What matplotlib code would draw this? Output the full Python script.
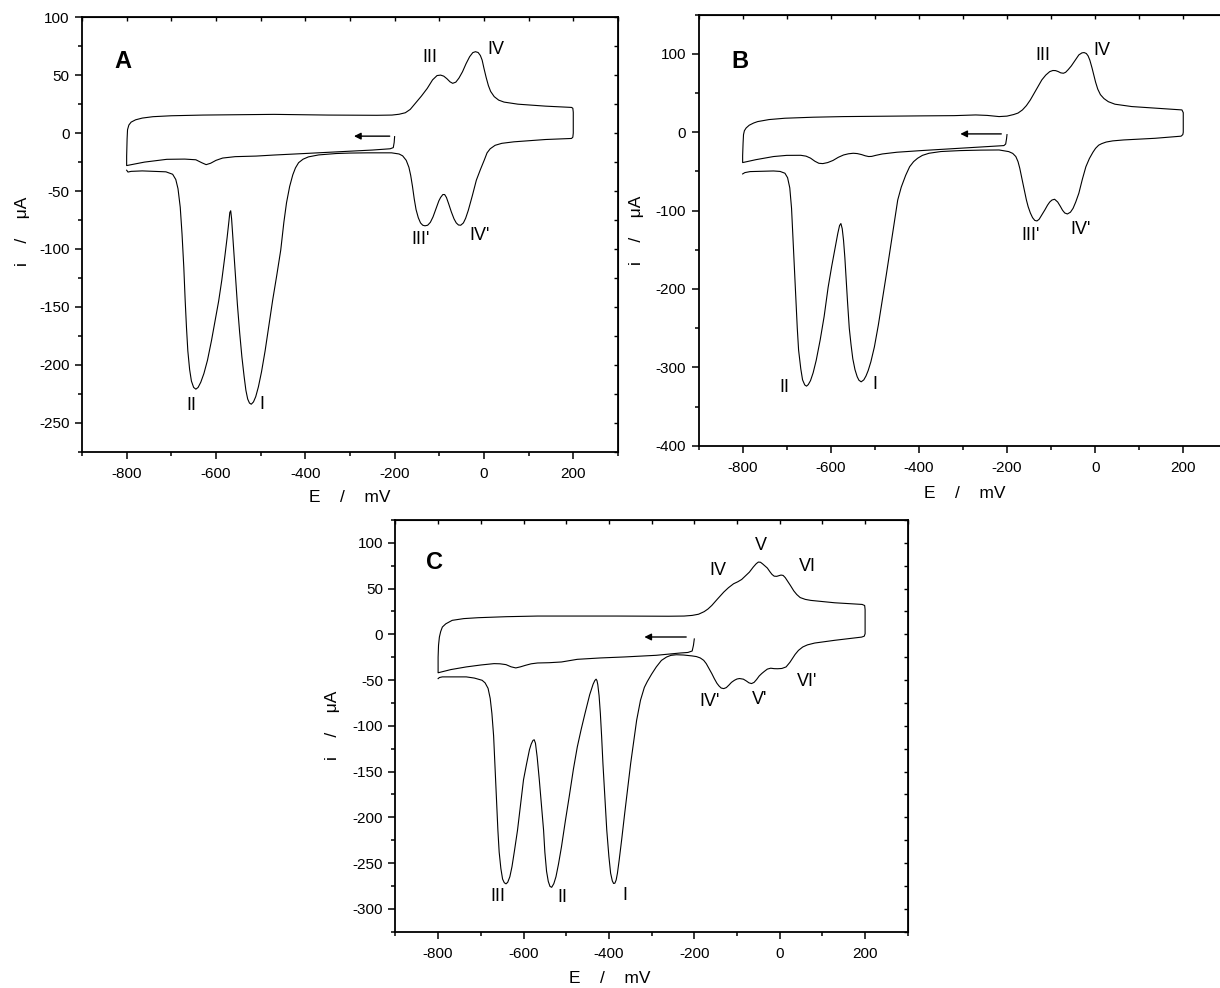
import matplotlib
matplotlib.use("Agg")
import matplotlib.pyplot as plt
from matplotlib.ticker import MultipleLocator
import numpy as np

plt.rcParams['font.family'] = ['Liberation Sans', 'DejaVu Sans']
plt.rcParams['axes.unicode_minus'] = False

# scan points (E in mV, i in uA), in the order the potential was swept
a_scan = [(-200, -3), (-201, -8), (-203, -12.5), (-210, -13.5), (-250, -14.6), (-300, -15.6), (-349, -16.6),
          (-402, -17.6), (-470, -18.9), (-510, -19.8), (-557, -20.3), (-585, -21.5), (-600, -23.5), (-612, -26),
          (-622, -27.2), (-632, -25.5), (-645, -23), (-670, -22.4), (-710, -22.6), (-760, -25), (-790, -27.3),
          (-800, -28), (-800, -20), (-799, -5), (-798, 3), (-795, 7), (-790, 9.5), (-780, 11.5), (-765, 13),
          (-741, 14.2), (-700, 15), (-629, 15.6), (-470, 16.2), (-349, 15.6), (-240, 15.4), (-206, 15.6),
          (-190, 16.3), (-176, 17.6), (-165, 20.5), (-154, 25.6), (-140, 32), (-127, 38.6), (-115, 46),
          (-105, 49.7), (-97, 50.1), (-90, 49.2), (-83, 47), (-76, 44.3), (-70, 43), (-63, 44), (-56, 47.5),
          (-48, 53), (-40, 60), (-32, 66), (-25, 69.5), (-19, 70.3), (-13, 69.6), (-8, 67), (-4, 63), (0, 56),
          (5, 48), (10, 41), (15, 36), (23, 31.5), (33, 28.5), (45, 26.8), (76, 25), (138, 23.3), (196, 22.2),
          (199, 21.5), (200, 18), (200, 0), (199, -3.5), (196, -4.6), (138, -5.5), (67, -7.5), (40, -8.8),
          (25, -10.5), (14, -13.5), (7, -17), (1, -23), (-8, -31.5), (-17, -40.6), (-26, -54), (-35, -66.6),
          (-41, -73.5), (-46, -77.5), (-52, -79.5), (-57, -79.3), (-62, -77.5), (-67, -74), (-73, -68),
          (-79, -61), (-84, -55.5), (-88, -53), (-92, -53), (-97, -55.5), (-101, -58.5), (-108, -66),
          (-114, -72.3), (-120, -77), (-126, -79.5), (-132, -80), (-137, -79.5), (-142, -77.5), (-147, -73),
          (-152, -66), (-156, -57), (-160, -46), (-164, -36.5), (-168, -29.5), (-174, -23.5), (-182, -19.6),
          (-190, -18), (-207, -17), (-260, -17), (-300, -17.2), (-331, -17.6), (-370, -18.8), (-393, -20.5),
          (-405, -22.5), (-415, -25.5), (-422, -30), (-428, -36), (-435, -46), (-442, -60), (-448, -77),
          (-455, -101), (-464, -123), (-473, -144), (-482, -167), (-490, -188), (-498, -206), (-505, -219),
          (-511, -227.5), (-516, -232), (-521, -234), (-525, -233), (-529, -229.5), (-533, -222), (-537, -210),
          (-542, -193), (-547, -172), (-552, -148), (-556, -125), (-560, -102), (-563, -85), (-565, -74),
          (-567, -67), (-569, -68.5), (-571, -76), (-575, -90), (-580, -106), (-587, -127), (-594, -145),
          (-601, -160), (-610, -179), (-619, -196), (-627, -207.5), (-634, -215), (-640, -219.5), (-645, -221),
          (-650, -219.5), (-655, -214), (-659, -204), (-663, -188), (-666, -168), (-669, -144), (-672, -116),
          (-676, -87), (-680, -64), (-685, -48), (-690, -40), (-697, -35.5), (-712, -33.4), (-765, -32.6),
          (-790, -33), (-797, -33.6), (-800, -32)]
a_labels = ["III", "IV", "III'", "IV'", "II", "I"]
a_lab_E = [-120, 26, -143, -10, -654, -497]
a_lab_i = [65, 72, -92, -88, -235, -234]

b_scan = [(-200, -3), (-201, -8), (-203, -15), (-207, -17), (-218, -17.4), (-306, -20.4), (-395, -23.4),
          (-450, -25.5), (-483, -27.7), (-498, -29.5), (-507, -30.8), (-514, -31), (-522, -30), (-530, -28.5),
          (-540, -27.2), (-549, -26.8), (-560, -27.5), (-571, -29), (-583, -32), (-595, -36), (-607, -38.7),
          (-618, -40), (-627, -39.6), (-636, -37), (-646, -33), (-656, -30.5), (-668, -29.4), (-700, -29.5),
          (-730, -31), (-770, -35), (-790, -37.5), (-800, -38.7), (-800, -30), (-799, -14), (-798, -3),
          (-796, 2), (-792, 5.5), (-785, 9), (-775, 11.8), (-766, 13.6), (-740, 16.2), (-704, 17.9),
          (-640, 19.2), (-571, 20), (-480, 20.5), (-395, 20.9), (-320, 21.2), (-271, 22.1), (-245, 21.5),
          (-218, 20), (-200, 20.6), (-185, 22.6), (-175, 24.5), (-165, 28.5), (-156, 34), (-147, 41.3),
          (-135, 53), (-121, 66.8), (-112, 73), (-103, 77.4), (-96, 78.8), (-90, 78.7), (-84, 77.5),
          (-78, 75.8), (-72, 75.3), (-67, 76.5), (-61, 80), (-54, 84.7), (-45, 92), (-37, 98.7), (-30, 101.3),
          (-25, 101.7), (-20, 100.5), (-16, 97.5), (-12, 92), (-7, 82), (-3, 73), (1, 64), (6, 55), (12, 48),
          (20, 43), (30, 39), (45, 35.8), (83, 32.8), (153, 30.2), (197, 28.5), (200, 25), (200, 0), (199, -3),
          (195, -5), (136, -7.7), (65, -9.8), (40, -11), (25, -12.5), (15, -14.5), (8, -16.5), (1, -20.5),
          (-5, -25.5), (-13, -33.5), (-21, -44), (-29, -60), (-37, -77.9), (-44, -89), (-50, -97), (-56, -102),
          (-63, -104.3), (-69, -103), (-74, -99.5), (-79, -94.5), (-85, -89), (-92, -85.5), (-98, -86.5),
          (-103, -89), (-108, -93), (-114, -99), (-121, -105.5), (-127, -111), (-132, -113.2), (-137, -112.5),
          (-142, -109), (-147, -103), (-152, -95), (-156, -86.4), (-160, -76), (-164, -65), (-167, -56.6),
          (-171, -46), (-175, -37.5), (-180, -31), (-187, -27), (-196, -24.7), (-218, -22.6), (-260, -22.8),
          (-306, -23.4), (-350, -24.6), (-377, -26.8), (-392, -29.5), (-403, -33.2), (-412, -37.5), (-421, -44),
          (-430, -55), (-440, -70), (-448, -86.4), (-456, -116), (-465, -150), (-474, -182), (-483, -214),
          (-492, -246), (-501, -274), (-509, -293), (-515, -304), (-520, -311), (-525, -316), (-531, -318.5),
          (-536, -316.5), (-540, -312), (-545, -303), (-550, -289), (-554, -271), (-558, -250), (-562, -216),
          (-565, -188), (-568, -160), (-571, -138), (-574, -123), (-577, -116.5), (-580, -119), (-584, -129),
          (-590, -147), (-598, -171.5), (-606, -198), (-615, -235), (-624, -265), (-633, -291), (-640, -307),
          (-646, -317), (-651, -322), (-655, -324), (-659, -322.5), (-664, -316), (-668, -302), (-673, -278),
          (-676, -250), (-679, -214), (-682, -175), (-686, -129), (-689, -97), (-693, -71), (-698, -58),
          (-704, -52.3), (-715, -50), (-730, -49.4), (-783, -50.2), (-795, -51.5), (-800, -53.2)]
b_labels = ["III", "IV", "III'", "IV'", "II", "I"]
b_lab_E = [-119, 16, -147, -32, -706, -501]
b_lab_i = [98, 104, -132, -124, -326, -322]

c_scan = [(-200, -5), (-202, -12), (-205, -18.2), (-215, -19.8), (-233, -20.4), (-289, -22.9), (-363, -24.7),
          (-420, -25.8), (-474, -27.3), (-495, -29), (-511, -30.2), (-540, -31), (-567, -31.3), (-582, -32.2),
          (-595, -33.8), (-607, -35.5), (-618, -36.7), (-629, -35.5), (-641, -33.1), (-655, -32.2), (-669, -32),
          (-700, -33.5), (-734, -35.6), (-770, -38.5), (-790, -40.8), (-798, -41.8), (-800, -42), (-800, -25),
          (-799, -12), (-797, -3), (-794, 3), (-790, 8), (-782, 11.5), (-767, 15.3), (-740, 17.2), (-706, 18.2),
          (-640, 19.3), (-567, 20), (-382, 20), (-260, 19.8), (-224, 20), (-205, 20.7), (-190, 22), (-177, 24.8),
          (-168, 27.7), (-159, 31.6), (-145, 39), (-131, 46.2), (-120, 51), (-108, 55.3), (-98, 57.5), (-89, 60),
          (-80, 64), (-71, 68), (-62, 73.5), (-55, 77.2), (-50, 79), (-45, 78.8), (-40, 77), (-35, 75),
          (-29, 72.5), (-23, 68.5), (-18, 65.5), (-13, 63.6), (-7, 63.4), (-1, 64.3), (3, 64.8), (8, 64.4),
          (13, 62), (18, 58.5), (25, 53.5), (33, 47.5), (40, 43.5), (48, 40.2), (60, 38.2), (73, 37.1),
          (129, 34.5), (193, 32.7), (199, 31.5), (200, 27), (200, 0.7), (198, -2), (192, -3), (129, -6.5),
          (82, -9.5), (65, -11.5), (54, -13.8), (44, -17.5), (36, -22), (31, -25.5), (24, -30.5), (15, -35.6),
          (5, -37.3), (-5, -37.6), (-13, -37.5), (-21, -37), (-29, -38), (-36, -40.5), (-42, -42.8),
          (-48, -45.5), (-54, -49.3), (-60, -52.5), (-66, -53.8), (-72, -53), (-78, -51), (-85, -49),
          (-94, -48.3), (-100, -48.8), (-106, -50.2), (-113, -52.5), (-119, -55.5), (-125, -58.2), (-131, -59.3),
          (-137, -58.7), (-142, -56.5), (-147, -53.5), (-153, -48.5), (-159, -42.9), (-166, -37), (-172, -32),
          (-178, -28.4), (-186, -25.8), (-195, -24.3), (-205, -23.6), (-225, -22.6), (-242, -22.3), (-255, -23),
          (-265, -24.8), (-277, -28.5), (-289, -35.6), (-300, -43.5), (-310, -51.5), (-317, -58), (-326, -72),
          (-335, -93.8), (-342, -117), (-349, -141), (-356, -168), (-363, -195.6), (-370, -224), (-376, -247),
          (-380, -261), (-383, -268.5), (-386, -272), (-389, -272.3), (-392, -269.5), (-396, -261), (-400, -243),
          (-405, -214), (-409, -182), (-414, -141), (-417, -112), (-420, -86.5), (-423, -67), (-426, -55),
          (-428, -50.5), (-430, -49), (-433, -50.5), (-437, -54.5), (-445, -66), (-456, -86.5), (-465, -104),
          (-474, -123), (-483, -147), (-493, -177.5), (-502, -204), (-511, -232), (-518, -251), (-524, -265),
          (-529, -272.5), (-534, -276.5), (-538, -275.5), (-542, -270), (-546, -259), (-550, -238), (-553, -214),
          (-558, -186), (-563, -159), (-568, -134), (-572, -119), (-575, -115.2), (-578, -116), (-582, -120),
          (-586, -126), (-593, -142), (-600, -159), (-607, -186), (-614, -214), (-621, -236), (-627, -254),
          (-632, -265), (-637, -271), (-641, -272.7), (-645, -271.5), (-649, -267.5), (-653, -256), (-657, -238),
          (-660, -214), (-663, -183), (-667, -141), (-670, -111), (-674, -86.5), (-678, -70), (-683, -59),
          (-690, -53), (-697, -50.2), (-715, -47.8), (-734, -46.5), (-790, -46.5), (-797, -47.2), (-800, -48.4)]
c_labels = ["IV", "V", "VI", "IV'", "V'", "VI'", "III", "II", "I"]
c_lab_E = [-145, -43, 65, -164, -48, 64, -660, -509, -363]
c_lab_i = [70, 97, 74, -73, -71, -52, -287, -288, -285]

fig = plt.figure(figsize=(12.2, 9.88), dpi=100)


def panel(rect, scan, labels, lab_E, lab_i, letter, letter_pos, ylim, ymajor, yminor, arrow):
    ax = fig.add_axes(rect)
    E = [p[0] for p in scan]
    i = [p[1] for p in scan]
    ax.plot(E, i, color='black', linewidth=0.8)
    ax.set_xlim(-900, 300)
    ax.set_ylim(*ylim)
    ax.xaxis.set_major_locator(MultipleLocator(200))
    ax.xaxis.set_minor_locator(MultipleLocator(100))
    ax.yaxis.set_major_locator(MultipleLocator(ymajor))
    ax.yaxis.set_minor_locator(MultipleLocator(yminor))
    ax.tick_params(which='major', direction='out', length=5, width=1.1, labelsize=11)
    ax.tick_params(which='minor', direction='out', length=3, width=1.1)
    ax.tick_params(axis='x', which='major', pad=6)
    ax.tick_params(axis='y', which='major', pad=4)
    for s in ax.spines.values():
        s.set_linewidth(1.3)
    # small inward ticks on top and right
    sx = ax.secondary_xaxis('top')
    sx.set_xticks(np.arange(-900, 301, 100))
    sx.set_xticklabels([])
    sx.tick_params(direction='in', length=3, width=1)
    sy = ax.secondary_yaxis('right')
    sy.set_yticks(np.arange(ylim[0], ylim[1] + 1, yminor))
    sy.set_yticklabels([])
    sy.tick_params(direction='in', length=3, width=1)
    for t, x, y in zip(labels, lab_E, lab_i):
        ax.text(x, y, t, fontsize=13, ha='center', va='center')
    ax.text(letter_pos[0], letter_pos[1], letter, fontsize=17, fontweight='bold',
            ha='center', va='center')
    ax.annotate('', xy=(arrow[1], arrow[2]), xytext=(arrow[0], arrow[2]),
                arrowprops=dict(arrowstyle='-|>', color='black', lw=1.0,
                                mutation_scale=10, shrinkA=0, shrinkB=0))
    return ax


panel([0.0672, 0.5428, 0.4393, 0.4397], a_scan, a_labels, a_lab_E, a_lab_i,
      'A', (-809, 62), (-275, 100), 50, 25, (-211, -291, -2.6))
panel([0.5726, 0.5489, 0.4334, 0.4362], b_scan, b_labels, b_lab_E, b_lab_i,
      'B', (-805, 90), (-400, 150), 100, 50, (-213, -306, -2.1))
panel([0.3241, 0.0570, 0.4200, 0.4167], c_scan, c_labels, c_lab_E, c_lab_i,
      'C', (-808, 79), (-325, 125), 50, 25, (-219, -317, -2.9))

# axis titles
ylab = 'i    /    \u03bcA'
xlab = 'E    /    mV'
fig.text(22 / 1220, 1 - 231 / 988, ylab, rotation=90, ha='center', va='center', fontsize=12.5)
fig.text(637 / 1220, 1 - 230 / 988, ylab, rotation=90, ha='center', va='center', fontsize=12.5)
fig.text(333 / 1220, 1 - 725 / 988, ylab, rotation=90, ha='center', va='center', fontsize=12.5)
fig.text(350 / 1220, 1 - 497 / 988, xlab, ha='center', va='center', fontsize=12.5)
fig.text(965 / 1220, 1 - 493 / 988, xlab, ha='center', va='center', fontsize=12.5)
fig.text(610 / 1220, 1 - 978 / 988, xlab, ha='center', va='center', fontsize=12.5)

fig.savefig('out.png', dpi=100)
